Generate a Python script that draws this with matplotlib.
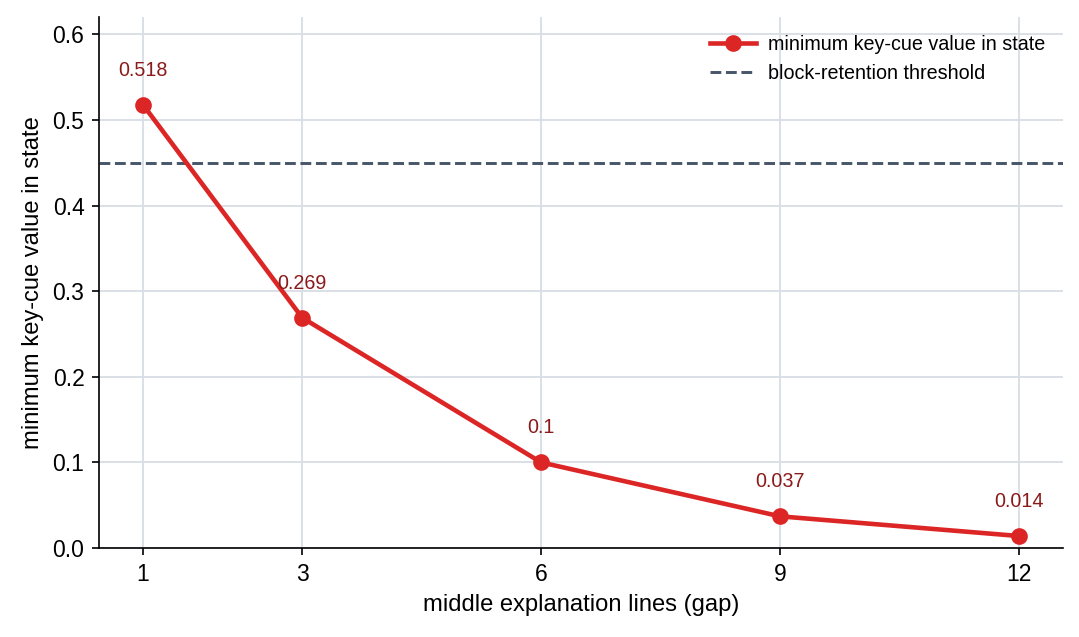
import matplotlib
matplotlib.use("Agg")
import matplotlib.pyplot as plt

plt.rcParams['font.family'] = ['Liberation Sans', 'DejaVu Sans']

# data
gap_lines = [1, 3, 6, 9, 12]
min_key_cue = [0.518, 0.269, 0.1, 0.037, 0.014]
value_labels = ['0.518', '0.269', '0.1', '0.037', '0.014']
threshold = 0.45

fig = plt.figure(figsize=(1079 / 150, 637 / 150), dpi=150)
ax = fig.add_axes([0.0918, 0.1397, 0.8932, 0.8333])

ax.plot(gap_lines, min_key_cue, color='#dc2626', linewidth=2.2, marker='o',
        markersize=7, label='minimum key-cue value in state', zorder=3)
ax.axhline(threshold, color='#475569', linestyle='--', linewidth=1.4,
           label='block-retention threshold', zorder=2)

for x, y, t in zip(gap_lines, min_key_cue, value_labels):
    ax.annotate(t, (x, y), xytext=(0, 12), textcoords='offset points',
                ha='center', va='bottom', fontsize=9.5, color='#8b1a1a')

ax.set_xlim(0.45, 12.55)
ax.set_ylim(0, 0.62)
ax.set_xticks(gap_lines)
ax.set_yticks([0, 0.1, 0.2, 0.3, 0.4, 0.5, 0.6])
ax.tick_params(labelsize=11)
ax.grid(True, color='#d9dde5', linewidth=0.9)
ax.set_axisbelow(True)
for s in ['top', 'right']:
    ax.spines[s].set_visible(False)

ax.set_xlabel('middle explanation lines (gap)', fontsize=11.4)
ax.set_ylabel('minimum key-cue value in state', fontsize=11.4)
ax.legend(loc='upper right', frameon=False, fontsize=9.5, handlelength=2.3,
          handletextpad=0.6)

fig.savefig('out.png', dpi=150)
